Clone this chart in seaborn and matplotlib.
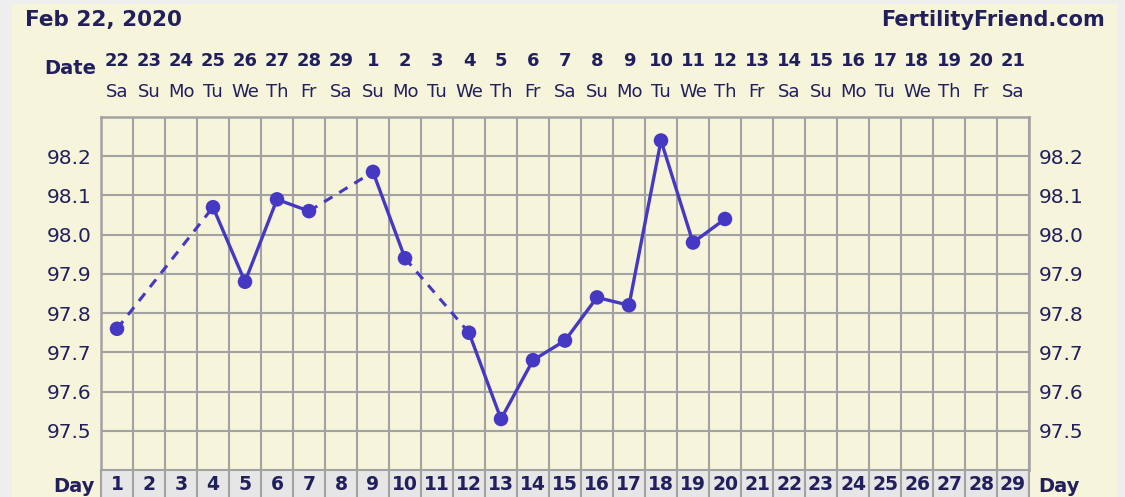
import matplotlib
matplotlib.use("Agg")
import matplotlib.pyplot as plt
from matplotlib.patches import Rectangle
import seaborn as sns
import pandas as pd

# chart values
cycle_days = [1, 4, 5, 6, 7, 9, 10, 12, 13, 14, 15, 16, 17, 18, 19, 20]
temps = [97.76, 98.07, 97.88, 98.09, 98.06, 98.16, 97.94, 97.75,
         97.53, 97.68, 97.73, 97.84, 97.82, 98.24, 97.98, 98.04]

day_labels = [str(d) for d in range(1, 30)]
date_labels = ["22", "23", "24", "25", "26", "27", "28", "29", "1", "2",
               "3", "4", "5", "6", "7", "8", "9", "10", "11", "12",
               "13", "14", "15", "16", "17", "18", "19", "20", "21"]
weekday_labels = ["Sa", "Su", "Mo", "Tu", "We", "Th", "Fr",
                  "Sa", "Su", "Mo", "Tu", "We", "Th", "Fr",
                  "Sa", "Su", "Mo", "Tu", "We", "Th", "Fr",
                  "Sa", "Su", "Mo", "Tu", "We", "Th", "Fr", "Sa"]
temp_ticks = [97.5, 97.6, 97.7, 97.8, 97.9, 98.0, 98.1, 98.2]

CREAM = "#f7f4dc"
NAVY = "#211f5c"
LINE = "#4539c4"
GRID = "#a2a2a2"

sns.set_style("white")
plt.rcParams["font.family"] = ["DejaVu Sans"]

# one row per pair of neighbouring readings; gaps get a dashed line
rows = []
for i in range(len(cycle_days) - 1):
    kind = "solid" if cycle_days[i + 1] - cycle_days[i] == 1 else "gap"
    for j in (i, i + 1):
        rows.append({"pair": i, "kind": kind, "day": cycle_days[j], "temp": temps[j]})
pairs = pd.DataFrame(rows)
points = pd.DataFrame({"day": cycle_days, "temp": temps})

W, H = 1125, 497
fig = plt.figure(figsize=(W / 100, H / 100), dpi=100, facecolor="#eeeeee")
fig.add_artist(Rectangle((12 / W, 0), 1106 / W, (H - 4) / H,
                         transform=fig.transFigure, facecolor=CREAM,
                         edgecolor="none", zorder=-10))

left, right, top, bottom = 101, 1029, 117, 470
ax = fig.add_axes([left / W, (H - bottom) / H, (right - left) / W, (bottom - top) / H])
ax.set_facecolor(CREAM)

sns.lineplot(data=pairs[pairs.kind == "solid"], x="day", y="temp", units="pair",
             estimator=None, color=LINE, lw=2.4, ax=ax, zorder=3)
sns.lineplot(data=pairs[pairs.kind == "gap"], x="day", y="temp", units="pair",
             estimator=None, color=LINE, lw=2.2, ax=ax, zorder=3,
             dashes=False, linestyle=(0, (3.2, 2.6)))
sns.scatterplot(data=points, x="day", y="temp", color=LINE, s=110,
                edgecolor="none", ax=ax, zorder=4)

ax.set_xlim(0.5, 29.5)
ax.set_ylim(97.4, 98.3)
ax.set_xticks([d + 0.5 for d in range(0, 30)])
ax.set_xticklabels([])
ax.set_yticks(temp_ticks)
ax.set_yticklabels([f"{t:.1f}" for t in temp_ticks])
ax.grid(True, color=GRID, lw=1.5)
ax.tick_params(axis="both", length=0)
ax.tick_params(axis="y", labelsize=14.5, labelcolor=NAVY, pad=7,
               labelleft=True, labelright=True)
for s in ax.spines.values():
    s.set_color(GRID)
    s.set_linewidth(1.8)
ax.set_xlabel("")
ax.set_ylabel("")
ax.set_axisbelow(True)

# date / weekday header
axh = bottom - top
for i in range(29):
    ax.text(i + 1, (bottom - 61) / axh, date_labels[i], transform=ax.get_xaxis_transform(),
            ha="center", va="center", fontsize=13, fontweight="bold", color=NAVY)
    ax.text(i + 1, (bottom - 92) / axh, weekday_labels[i], transform=ax.get_xaxis_transform(),
            ha="center", va="center", fontsize=13, color=NAVY)
fig.text(96 / W, 1 - 68 / H, "Date", ha="right", va="center",
         fontsize=14, fontweight="bold", color=NAVY)

# day row
axd = fig.add_axes([left / W, 0, (right - left) / W, (H - bottom) / H])
axd.set_facecolor("#e6e6e6")
axd.set_xlim(0.5, 29.5)
axd.set_ylim(0, 1)
axd.set_xticks([d + 0.5 for d in range(0, 30)])
axd.set_yticks([])
axd.set_xticklabels([])
axd.tick_params(length=0)
axd.grid(True, axis="x", color=GRID, lw=1.5)
for name, s in axd.spines.items():
    s.set_color(GRID)
    s.set_linewidth(1.5)
axd.spines["bottom"].set_visible(False)
for i, lab in enumerate(day_labels):
    axd.text(i + 1, 0.45, lab, ha="center", va="center", fontsize=13.5,
             fontweight="bold", color=NAVY)
fig.text(95 / W, 11 / H, "Day", ha="right", va="center",
         fontsize=14, fontweight="bold", color=NAVY)
fig.text(1038 / W, 11 / H, "Day", ha="left", va="center",
         fontsize=14, fontweight="bold", color=NAVY)

fig.text(25 / W, 1 - 20 / H, "Feb 22, 2020", ha="left", va="center",
         fontsize=15.5, fontweight="bold", color=NAVY)
fig.text(1105 / W, 1 - 20 / H, "FertilityFriend.com", ha="right", va="center",
         fontsize=15, fontweight="bold", color=NAVY)

fig.savefig("out.png", dpi=100, facecolor=fig.get_facecolor())
